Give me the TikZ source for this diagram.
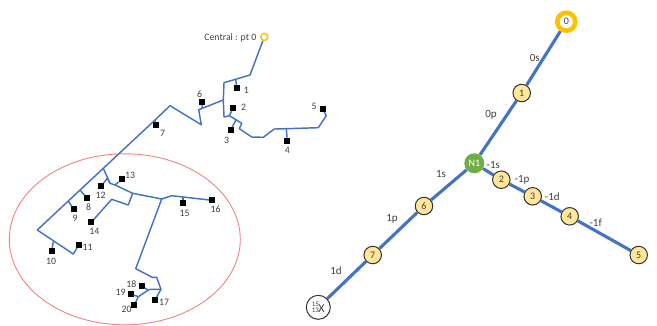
\documentclass[tikz,border=0pt]{standalone}
\usepackage{fontspec}
\usetikzlibrary{shapes.geometric}
\setmainfont{Carlito}
\definecolor{wire}{RGB}{68,114,196}
\definecolor{txt}{RGB}{64,64,64}
\definecolor{gold}{RGB}{255,192,0}
\definecolor{pale}{RGB}{255,230,153}
\definecolor{leaf}{RGB}{112,173,71}
\definecolor{rim}{RGB}{240,130,130}
\tikzset{
  sq/.style={fill=black,draw=none,minimum size=6bp,inner sep=0pt,outer sep=0pt,rectangle},
  lab/.style={text=txt,font=\fontsize{9.8bp}{11bp}\selectfont,inner sep=0pt},
  wirel/.style={draw=wire,line width=1.45bp,line join=round},
  wirer/.style={draw=wire,line width=3.1bp},
  dot/.style={circle,draw=black!80,fill=pale,line width=1bp,minimum size=17.5bp,inner sep=0pt,text=txt,font=\fontsize{10bp}{11bp}\selectfont},
}
\begin{document}
\begin{tikzpicture}[x=1bp,y=-1bp]
\useasboundingbox (0,0) rectangle (657,325);
\node[draw=rim,line width=0.9bp,ellipse,minimum width=231bp,minimum height=171bp,inner sep=0pt] (zone) at (124.8,239.3) {};
% terminals
\foreach \n/\x/\y in {1/236.7/88,2/233.3/107.7,3/230.7/130,4/287.3/140.7,5/322.7/109,6/201.7/102,7/155.7/125.3,8/87.3/198.3,9/73.7/209.3,10/51.7/251,11/78.7/245,12/101.3/186,13/121.7/179.3,14/91.3/222.3,15/183/202.7,16/212/200.3,17/154.7/300.3,18/141.7/286.3,19/130.7/294,20/134.3/305}
  \node[sq] (t\n) at (\x,\y) {};
\foreach \n/\x/\y in {1/246.3/90.3,2/243.7/107.3,3/226.7/140,4/287.3/150.7,5/314/106,6/199.7/94,7/162.7/133.7,8/88.7/206.7,9/75/218.7,10/51/261.3,11/87.7/247.3,12/100.7/195,13/130/175.3,14/94.3/231.7,15/184.7/213.7,16/215.7/209,17/164/302.7,18/131.3/284.3,19/120.7/292.7,20/126.7/309.3}
  \node[lab] (l\n) at (\x,\y) {\n};
\node[circle,draw=gold,fill=white,line width=1.5bp,minimum size=7bp,inner sep=0pt] (central) at (264.3,37) {};
\node[lab,anchor=east] (clab) at (256.5,38.3) {Central : pt 0};
% junctions
\coordinate (a1) at (235.7,79);
\coordinate (a2) at (229.3,115.7);
\coordinate (a3) at (236,119.7);
\coordinate (a4) at (286.3,128.7);
\coordinate (a6) at (202.3,108.3);
\coordinate (a7) at (155,120);
\coordinate (b0) at (223.3,100);
\coordinate (b1) at (103.3,168.3);
\coordinate (b8) at (80,190);
\coordinate (b9) at (68.3,201);
\coordinate (b10) at (53.3,241.7);
\coordinate (c11) at (110,183.3);
\coordinate (c13) at (115,185);
\coordinate (c14) at (132.7,193.3);
\coordinate (c15) at (183,196.7);
\coordinate (c16) at (161.7,199);
\coordinate (c12) at (107.3,178.3);
\coordinate (d1) at (161,289.3);
\coordinate (d2) at (148.3,290);
\coordinate (d3) at (138.3,296.7);
% main trunk
\draw[wirel] (central) -- (250,75) -- (224,82.7) -- (b0) -- (224,117) -- (a2) -- (a3) -- (241.7,123.3) -- (239.3,128.7) -- (251.7,137) -- (263.3,137.3) -- (274.3,129) -- (a4) -- (318.3,127.7) -- (326.3,115.7) -- (t5);
\draw[wirel] (b0) -- (198.7,109.7) -- (201.3,124.7) -- (170,105.7) -- (a7) -- (b1) -- (b9) -- (37.3,230) -- (73.3,254) -- (t11);
\draw[wirel] (a1) -- (t1);
\draw[wirel] (a2) -- (t2);
\draw[wirel] (a3) -- (t3);
\draw[wirel] (a4) -- (t4);
\draw[wirel] (a6) -- (t6);
\draw[wirel] (a7) -- (t7);
\draw[wirel] (b8) -- (t8);
\draw[wirel] (b9) -- (t9);
\draw[wirel] (b10) -- (t10);
\draw[wirel] (b1) -- (c11) -- (c13) -- (c14) -- (c16) -- (171.7,195.7) -- (t16);
\draw[wirel] (c11) -- (c12) -- (t12);
\draw[wirel] (c13) -- (t13);
\draw[wirel] (c14) -- (128.3,205) -- (111.7,199.3) -- (t14);
\draw[wirel] (c15) -- (t15);
\draw[wirel] (c16) -- (135.7,268.7) -- (152.3,277.3) -- (156.7,277.3) -- (d1) -- (t17);
\draw[wirel] (d1) -- (150.7,289.3) -- (d2) -- (d3) -- (t20);
\draw[wirel] (d3) -- (t19);
\draw[wirel] (d2) -- (t18);
% right schematic
\node[circle,draw=gold,fill=white,line width=4.6bp,minimum size=18bp,inner sep=0pt,text=txt,font=\fontsize{10bp}{11bp}\selectfont] (n0) at (566.3,21.7) {0};
\node[dot] (n1) at (521.7,93) {1};
\node[circle,fill=leaf,draw=none,minimum size=20bp,inner sep=0pt,text=white,font=\fontsize{10bp}{11bp}\selectfont] (nN) at (474.3,163.3) {N1};
\node[circle,draw=black!80,fill=white,line width=1bp,minimum size=24bp,inner sep=0pt,text=txt] (nX) at (318.3,307.3) {\fontsize{7bp}{7bp}\selectfont\shortstack[c]{15\\[-1.5bp]13}\hspace{-0.5bp}\fontsize{12bp}{12bp}\selectfont X};
\node[dot] (n2) at (501.3,179.7) {2};
\node[dot] (n3) at (532.7,196.3) {3};
\node[dot] (n4) at (569.7,216.3) {4};
\node[dot] (n5) at (638.7,255) {5};
\node[dot] (n6) at (424,206) {6};
\node[dot] (n7) at (372.7,255) {7};
\foreach \a/\b in {n0/n1,n1/nN,nN/n2,n2/n3,n3/n4,n4/n5,nN/n6,n6/n7,n7/nX}
  \draw[wirer] (\a) -- (\b);
\foreach \n/\t/\x/\y in {p/0s/534.7/58.3,q/0p/491/114.7,r/1s/441/174,s/1p/392/219,u/1d/336/271,v/-1s/493.3/165,w/-1p/522/180.3,y/-1d/552.3/196.7,z/-1f/595.7/222.7}
  \node[lab,font=\fontsize{11bp}{12bp}\selectfont] (e\n) at (\x,\y) {\t};
\end{tikzpicture}
\end{document}
